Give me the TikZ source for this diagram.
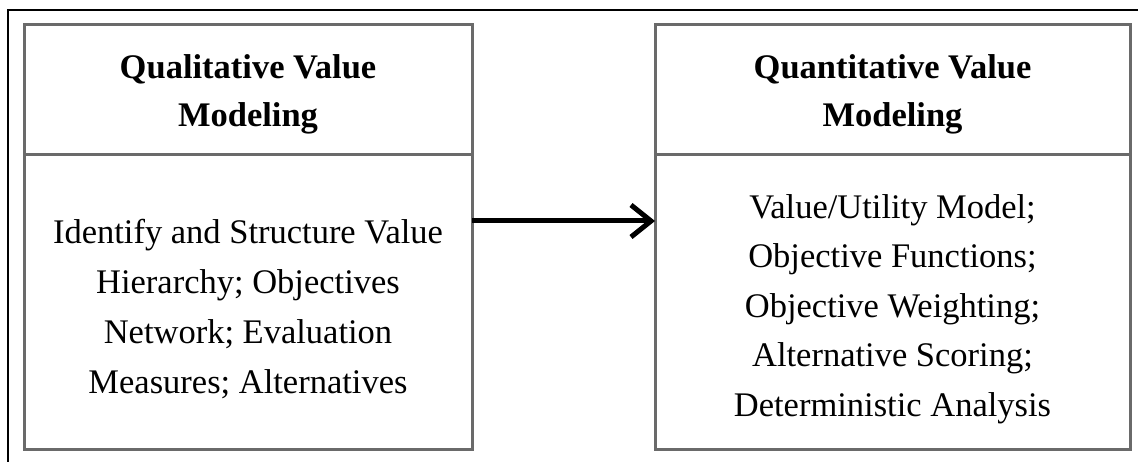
\documentclass[tikz,border=0pt]{standalone}
\usepackage{fontspec}
\setmainfont{Liberation Serif}
\usetikzlibrary{arrows.meta}

\definecolor{boxline}{HTML}{6A6A6A}

\tikzset{
  panel/.style={draw=boxline, line width=3pt, rectangle, inner sep=0pt, outer sep=0pt},
  headtext/.style={align=center, inner sep=0pt, font=\bfseries\fontsize{34.5}{48}\selectfont},
  bodytext/.style={align=center, inner sep=0pt, font=\fontsize{34.5}{50}\selectfont},
  flow/.style={line width=5pt, -{Straight Barb[length=20pt, width=32pt]}},
}

\begin{document}
\begin{tikzpicture}[x=1pt, y=-1pt]
  \useasboundingbox (0,0) rectangle (1138,462);

  % outer frame (top and left edges)
  \draw[line width=2pt] (8,462) -- (8,10) -- (1138,10);

  % qualitative panel
  \node[panel, minimum width=448pt, minimum height=130pt] (lhead) at (248,90) {};
  \node[panel, minimum width=448pt, minimum height=294pt] (lbody) at (248,302) {};
  \node[headtext] (lheadtxt) at (248,94) {Qualitative Value\\Modeling};
  \node[bodytext] (lbodytxt) at (248,309) {Identify and Structure Value\\Hierarchy; Objectives\\Network; Evaluation\\Measures; Alternatives};

  % quantitative panel
  \node[panel, minimum width=475pt, minimum height=130pt] (rhead) at (892.5,90) {};
  \node[panel, minimum width=475pt, minimum height=294pt] (rbody) at (892.5,302) {};
  \node[headtext] (rheadtxt) at (892.5,94) {Quantitative Value\\Modeling};
  \node[bodytext, font=\fontsize{34.5}{49.5}\selectfont] (rbodytxt) at (892.5,309) {Value/Utility Model;\\Objective Functions;\\Objective Weighting;\\Alternative Scoring;\\Deterministic Analysis};

  % connector between the panels
  \coordinate (ay) at (0,221);
  \draw[flow] (lbody.east |- ay) -- (rbody.west |- ay);
\end{tikzpicture}
\end{document}
